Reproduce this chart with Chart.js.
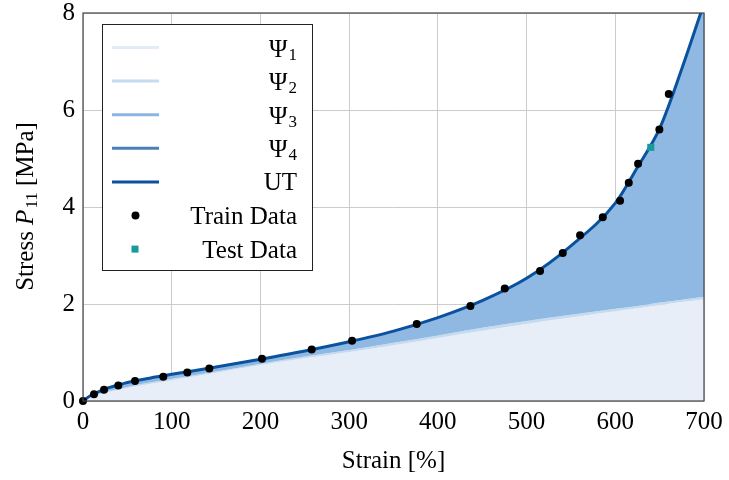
<!DOCTYPE html>
<html>
<head>
<meta charset="utf-8">
<script src="https://cdn.jsdelivr.net/npm/chart.js@4.4.1/dist/chart.umd.min.js"></script>
<style>
  html, body { margin: 0; padding: 0; background: #fff; }
  #wrap { width: 729px; height: 480px; }
</style>
</head>
<body>
<div id="wrap"><canvas id="stressChart"></canvas></div>
<script>
// strain grid [%] for the model curves
const strain = [0, 5, 10, 20, 30, 40, 50, 75, 100, 150, 200, 250, 300, 350, 400, 450, 500, 550, 600, 625, 650, 675, 700];

// stress contribution of each energy term [MPa]
const psi1 = [0, 0.05, 0.09, 0.14, 0.19, 0.23, 0.27, 0.35, 0.43, 0.58, 0.74, 0.88, 1.01, 1.15, 1.30, 1.45, 1.59, 1.72, 1.85, 1.91, 1.98, 2.04, 2.10];
const psi2 = [0, 0.01, 0.01, 0.02, 0.02, 0.02, 0.02, 0.03, 0.03, 0.03, 0.03, 0.04, 0.04, 0.05, 0.05, 0.06, 0.06, 0.06, 0.05, 0.05, 0.05, 0.05, 0.05];
const psi3 = [0, 0.005, 0.02, 0.04, 0.06, 0.07, 0.08, 0.08, 0.08, 0.075, 0.075, 0.09, 0.15, 0.22, 0.35, 0.54, 0.86, 1.40, 2.16, 2.84, 3.57, 4.74, 6.03];
const psi4 = [0, 0.005, 0.01, 0.01, 0.01, 0.01, 0.01, 0.01, 0.01, 0.015, 0.015, 0.02, 0.02, 0.02, 0.02, 0.02, 0.02, 0.02, 0.02, 0.02, 0.02, 0.02, 0.02];

// full model response (uniaxial tension)
const utStress = [0, 0.07, 0.13, 0.21, 0.28, 0.33, 0.38, 0.47, 0.55, 0.70, 0.86, 1.03, 1.22, 1.44, 1.72, 2.07, 2.53, 3.20, 4.08, 4.82, 5.62, 6.85, 8.20];

// measurements
const trainStrain = [0, 12.4, 23.7, 39.8, 58.6, 90.5, 117.6, 142.4, 201.8, 257.8, 303.3, 376.2, 436.7, 475.4, 515.2, 540.8, 560.3, 585.9, 605.4, 615.2, 625.7, 649.7, 660.3];
const trainStress = [0, 0.14, 0.23, 0.32, 0.41, 0.50, 0.59, 0.67, 0.87, 1.06, 1.24, 1.59, 1.96, 2.32, 2.68, 3.05, 3.42, 3.79, 4.13, 4.50, 4.89, 5.60, 6.33];
const testStrain = [640];
const testStress = [5.23];

const seriesLabels = ['Ψ1', 'Ψ2', 'Ψ3', 'Ψ4', 'UT', 'Train Data', 'Test Data'];
const xTicks = [0, 100, 200, 300, 400, 500, 600, 700];
const yTicks = [0, 2, 4, 6, 8];

const fillColors = ['#e7eef8', '#c6dbf0', '#8fb9e3', '#4a80b8'];
const lineColors = ['#e2ecf8', '#c6dbf0', '#8cb6e2', '#4a80b8', '#0b529e'];
const testColor = '#169a9d';
const FONT = "'Liberation Serif', 'Times New Roman', serif";

// running sums give the upper edge of each stacked band
let running = strain.map(() => 0);
const bandTops = [psi1, psi2, psi3, psi4].map(layer => (running = running.map((v, i) => v + layer[i])));

const toPoints = (xs, ys) => xs.map((x, i) => ({ x: x, y: ys[i] }));

const bandSets = bandTops.map((tops, k) => ({
    label: seriesLabels[k],
    data: toPoints(strain, tops),
    borderWidth: 0,
    pointRadius: 0,
    backgroundColor: fillColors[k],
    fill: k === 0 ? 'origin' : '-1',
    cubicInterpolationMode: 'monotone',
    order: 10 - k
}));

// split "Ψ1" into base text and subscript
function splitSub(label) {
    const m = label.match(/^(.*?)(\d+)$/);
    return m ? [m[1], m[2]] : [label, ''];
}

const decorations = {
    id: 'decorations',
    afterDatasetsDraw(chart) {
        const { ctx, chartArea: a } = chart;
        ctx.save();

        // frame
        ctx.strokeStyle = '#444';
        ctx.lineWidth = 1.2;
        ctx.strokeRect(a.left, a.top, a.right - a.left, a.bottom - a.top);

        // legend box
        const bx = 102.5, by = 24.5, bw = 210, bh = 246;
        ctx.fillStyle = '#fff';
        ctx.fillRect(bx, by, bw, bh);
        ctx.strokeStyle = '#222';
        ctx.lineWidth = 1;
        ctx.strokeRect(bx, by, bw, bh);

        const textRight = 297;
        seriesLabels.forEach((label, i) => {
            const cy = 47.5 + i * 33.6;
            if (i < 5) {
                ctx.strokeStyle = lineColors[i];
                ctx.lineWidth = 3;
                ctx.beginPath();
                ctx.moveTo(112, cy);
                ctx.lineTo(159, cy);
                ctx.stroke();
            } else if (i === 5) {
                ctx.fillStyle = '#000';
                ctx.beginPath();
                ctx.arc(135.5, cy, 4, 0, Math.PI * 2);
                ctx.fill();
            } else {
                ctx.fillStyle = testColor;
                ctx.fillRect(131.5, cy - 3.5, 7, 7);
            }
            const [base, sub] = splitSub(label);
            ctx.fillStyle = '#000';
            ctx.textAlign = 'right';
            ctx.textBaseline = 'alphabetic';
            if (sub) {
                ctx.font = '17px ' + FONT;
                ctx.fillText(sub, textRight, cy + 12);
                const right = textRight - ctx.measureText(sub).width - 1;
                ctx.font = '25px ' + FONT;
                ctx.fillText(base, right, cy + 9);
            } else {
                ctx.font = '25px ' + FONT;
                ctx.fillText(label, textRight, cy + 8.5);
            }
        });

        // x axis title
        ctx.fillStyle = '#000';
        ctx.font = '25px ' + FONT;
        ctx.textAlign = 'center';
        ctx.textBaseline = 'alphabetic';
        ctx.fillText('Strain [%]', (a.left + a.right) / 2, 468);

        // y axis title, rotated, with italic P and subscript 11
        ctx.translate(33, (a.top + a.bottom) / 2);
        ctx.rotate(-Math.PI / 2);
        ctx.textAlign = 'left';
        const parts = [
            { t: 'Stress ', f: '25px ' + FONT, dy: 0 },
            { t: 'P', f: 'italic 25px ' + FONT, dy: 0 },
            { t: '11', f: '17px ' + FONT, dy: 4 },
            { t: ' [MPa]', f: '25px ' + FONT, dy: 0 }
        ];
        let total = 0;
        parts.forEach(p => { ctx.font = p.f; p.w = ctx.measureText(p.t).width; total += p.w; });
        let x = -total / 2;
        parts.forEach(p => {
            ctx.font = p.f;
            ctx.fillText(p.t, x, p.dy);
            x += p.w + (p.t === 'P' ? 1 : 0);
        });

        ctx.restore();
    }
};

const ctx = document.getElementById('stressChart').getContext('2d');

new Chart(ctx, {
    type: 'line',
    data: {
        datasets: [
            ...bandSets,
            {
                label: seriesLabels[4],
                data: toPoints(strain, utStress),
                borderColor: lineColors[4],
                borderWidth: 3,
                pointRadius: 0,
                fill: false,
                cubicInterpolationMode: 'monotone',
                order: 2
            },
            {
                label: seriesLabels[5],
                data: toPoints(trainStrain, trainStress),
                showLine: false,
                pointRadius: 4,
                pointBackgroundColor: '#000',
                pointBorderWidth: 0,
                clip: false,
                order: 1
            },
            {
                label: seriesLabels[6],
                data: toPoints(testStrain, testStress),
                showLine: false,
                pointStyle: 'rect',
                pointRadius: 5,
                pointBackgroundColor: testColor,
                pointBorderWidth: 0,
                clip: false,
                order: 0
            }
        ]
    },
    options: {
        responsive: true,
        maintainAspectRatio: false,
        animation: false,
        devicePixelRatio: 1,
        layout: { padding: { top: 13, right: 25, left: 0, bottom: 0 } },
        plugins: {
            legend: { display: false },
            tooltip: { enabled: false }
        },
        scales: {
            x: {
                type: 'linear',
                min: 0,
                max: 700,
                afterBuildTicks: s => { s.ticks = xTicks.map(v => ({ value: v })); },
                afterFit: s => { s.height = 79; s.paddingLeft = 0; s.paddingRight = 0; },
                grid: { color: '#cccccc', drawTicks: false },
                border: { display: false },
                ticks: { color: '#000', padding: 6, font: { family: FONT, size: 25 } }
            },
            y: {
                min: 0,
                max: 8,
                afterBuildTicks: s => { s.ticks = yTicks.map(v => ({ value: v })); },
                afterFit: s => { s.width = 83; s.paddingTop = 0; s.paddingBottom = 0; },
                grid: { color: '#cccccc', drawTicks: false },
                border: { display: false },
                ticks: { color: '#000', padding: 8, font: { family: FONT, size: 25 } }
            }
        }
    },
    plugins: [decorations]
});
</script>
</body>
</html>
